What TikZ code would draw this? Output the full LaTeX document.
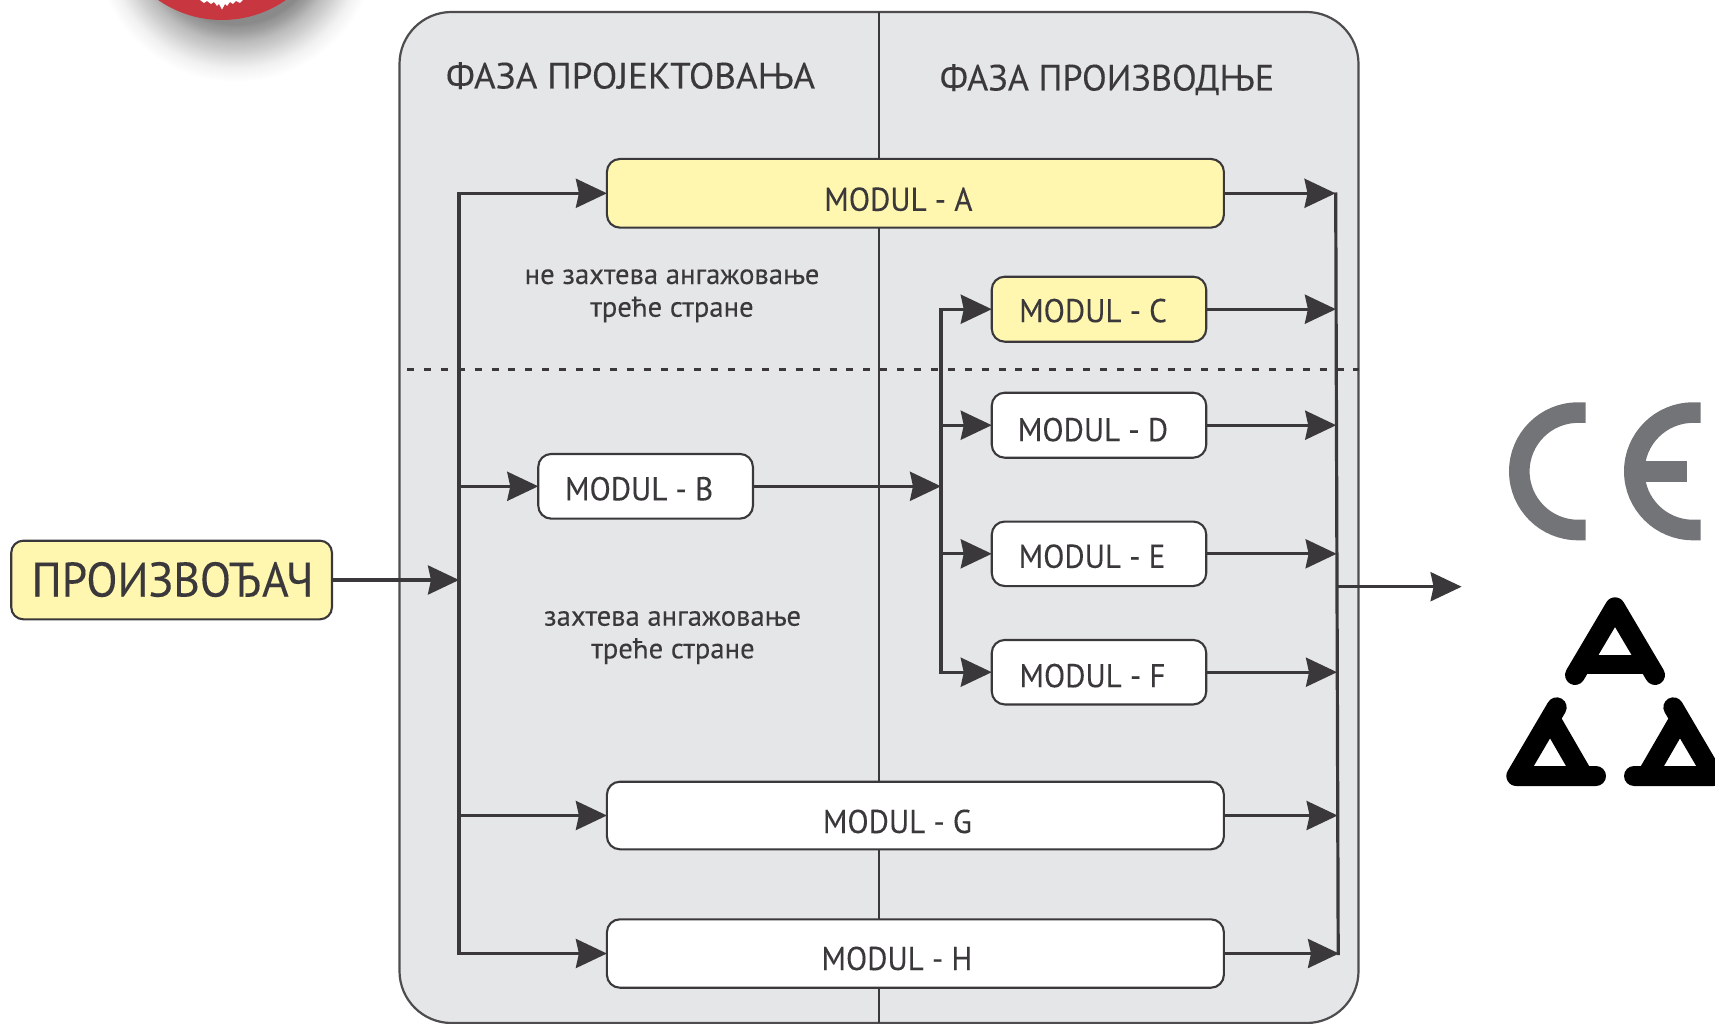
\documentclass[tikz,border=0pt]{standalone}
\usepackage{fontspec}
\setmainfont{PT Sans}[FakeBold=0.15]
\usetikzlibrary{arrows.meta}
\definecolor{ink}{HTML}{3A383A}
\definecolor{panelgray}{HTML}{E5E6E8}
\definecolor{noteyellow}{HTML}{FFF6AF}
\definecolor{cegray}{HTML}{737477}
\definecolor{sealred}{HTML}{C8373F}
\newcommand\offtext[3]{\smash{\raisebox{-#2}{\makebox[0pt]{\hspace{#1}\scalebox{.94}[1]{#3}}}}}
\newcommand\modfont{\fontsize{33}{33}\selectfont}
\tikzset{
  panelbox/.style={draw=ink!90!white,line width=2.2pt,fill=panelgray,rounded corners=52pt,inner sep=0pt,outer sep=0pt},
  modbox/.style={draw=ink,line width=2.1pt,rounded corners=13pt,inner sep=0pt,outer sep=0pt,text=ink,font=\modfont},
  yellowfill/.style={fill=noteyellow},
  whitefill/.style={fill=white},
  conn/.style={draw=ink,line width=3.2pt},
  arr/.style={conn,-{Stealth[length=31pt,width=29pt,inset=3pt]}},
  head/.style={text=ink,inner sep=0pt,anchor=base,font=\fontsize{36.5}{36.5}\selectfont},
  note/.style={text=ink,inner sep=0pt,anchor=base,font=\fontsize{28.7}{28.7}\selectfont},
}
\begin{document}
\begin{tikzpicture}[x=1pt,y=-1pt]
\useasboundingbox (0,0) rectangle (1715,1024);
\clip (0,0) rectangle (1715,1024);
% seal, cut by the top edge, with its soft shadow
\foreach \r [evaluate=\r as \op using {0.0008+0.018*(146-\r)/61}] in {146,145,...,85}{\fill[black,opacity=\op] (236,-60) circle[radius=\r pt];}
\fill[sealred] (222,-92) circle[radius=112pt];
\fill[white] (200,0)--(204,3)--(207,1)--(211,4)--(214,2)--(217,6)--(219,4)--(222,9.5)--(225,4)--(227,6)--(230,2)--(233,4)--(236,1)--(240,3)--(243,0)--cycle;
% panel
\node[panelbox,minimum width=959pt,minimum height=1011pt] (panel) at (879,517.5) {};
\coordinate (midtop) at (879,12);
\coordinate (midbot) at (879,1023);
\draw[ink,line width=2pt] (midtop) -- (midbot);
\coordinate (dashl) at (407,369.5);
\coordinate (dashr) at (1359,369.5);
\draw[ink,line width=3.2pt,dash pattern=on 7pt off 9.9pt] (dashl) -- (dashr);
\node[head] (h1) at (630.5,88.5) {\scalebox{1.016}[1]{ФАЗА ПРОЈЕКТОВАЊА}};
\node[head] (h2) at (1107,90.5) {\scalebox{.99}[1]{ФАЗА ПРОИЗВОДЊЕ}};
\node[note] (n1a) at (672,284) {не захтева ангажовање};
\node[note] (n1b) at (672,316.7) {треће стране};
\node[note] (n2a) at (672.5,625.7) {захтева ангажовање};
\node[note] (n2b) at (673,658.3) {треће стране};
% boxes
\node[modbox,yellowfill,minimum width=617pt,minimum height=68.7pt] (A) at (915.4,193.3) {\offtext{-34pt}{17.5pt}{MODUL - A}};
\node[modbox,whitefill,minimum width=214.7pt,minimum height=64.7pt] (B) at (645.6,486.3) {\offtext{-13pt}{14pt}{MODUL - B}};
\node[modbox,yellowfill,minimum width=214.5pt,minimum height=65pt] (C) at (1099,309.2) {\offtext{-12pt}{13pt}{MODUL - C}};
\node[modbox,whitefill,minimum width=214.5pt,minimum height=65pt] (D) at (1099,425.2) {\offtext{-12pt}{16pt}{MODUL - D}};
\node[modbox,whitefill,minimum width=214.5pt,minimum height=64.5pt] (E) at (1099,553.8) {\offtext{-14pt}{14pt}{MODUL - E}};
\node[modbox,whitefill,minimum width=214.5pt,minimum height=64.5pt] (F) at (1099,672.2) {\offtext{-13pt}{15pt}{MODUL - F}};
\node[modbox,whitefill,minimum width=617pt,minimum height=67.6pt] (G) at (915.4,815.5) {\offtext{-36pt}{17.5pt}{MODUL - G}};
\node[modbox,whitefill,minimum width=617pt,minimum height=68.4pt] (H) at (915.4,953.5) {\offtext{-37pt}{16.5pt}{MODUL - H}};
\node[modbox,yellowfill,rounded corners=12pt,minimum width=320.7pt,minimum height=78.6pt,font=\fontsize{48.5}{48.5}\selectfont] (P) at (171.6,580) {\offtext{2pt}{16.5pt}{ПРОИЗВОЂАЧ}};
% left bus
\coordinate (lbustop) at (459,193.3);
\coordinate (lbusbot) at (459,953.5);
\draw[conn,line cap=rect] (lbustop) -- (lbusbot);
\draw[arr] (P.east) -- (P.east -| lbustop);
\draw[arr] (A.west -| lbustop) -- (A.west);
\draw[arr] (B.west -| lbustop) -- (B.west);
\draw[arr] (G.west -| lbustop) -- (G.west);
\draw[arr] (H.west -| lbustop) -- (H.west);
% inner bus
\coordinate (ibustop) at (941,309.2);
\coordinate (ibusbot) at (941,672.2);
\draw[conn,line cap=rect] (ibustop) -- (ibusbot);
\draw[arr] (B.east) -- (B.east -| ibustop);
\draw[arr] (C.west -| ibustop) -- (C.west);
\draw[arr] (D.west -| ibustop) -- (D.west);
\draw[arr] (E.west -| ibustop) -- (E.west);
\draw[arr] (F.west -| ibustop) -- (F.west);
% right bus
\coordinate (rbustop) at (1335.7,192.5);
\coordinate (rbusbot) at (1338.2,955);
\coordinate (ra) at (1335.5,193.3);
\coordinate (rc) at (1335.9,309.2);
\coordinate (rd) at (1336.2,425.2);
\coordinate (re) at (1336.6,553.8);
\coordinate (rf) at (1337,672.2);
\coordinate (rg) at (1337.6,815.5);
\coordinate (rh) at (1339,953.5);
\coordinate (routa) at (1337,586.7);
\coordinate (routb) at (1461.6,586.7);
\draw[conn] (rbustop) -- (rbusbot);
\draw[arr] (A.east) -- (ra);
\draw[arr] (C.east) -- (rc);
\draw[arr] (D.east) -- (rd);
\draw[arr] (E.east) -- (re);
\draw[arr] (F.east) -- (rf);
\draw[arr] (G.east) -- (rg);
\draw[arr] (H.east) -- (rh);
\draw[arr] (routa) -- (routb);
% CE mark
\draw[cegray,line width=20.6pt] (1585.7,412.6) -- (1578,412.6) .. controls (1545.6,412.6) and (1519.3,438.9) .. (1519.3,471.3) .. controls (1519.3,503.7) and (1545.6,530) .. (1578,530) -- (1585.7,530);
\draw[cegray,line width=20.6pt] (1700.7,412.6) -- (1693,412.6) .. controls (1660.6,412.6) and (1634.3,438.9) .. (1634.3,471.3) .. controls (1634.3,503.7) and (1660.6,530) .. (1693,530) -- (1700.7,530);
\draw[cegray,line width=21pt] (1640,471.2) -- (1687.3,471.2);
% triangles
\begin{scope}[shift={(1450,370)},x=0.33333pt,y=-0.33333pt,black,line width=20pt,line cap=round,line join=round]
\draw (375,915) -- (495,712) -- (615,915);
\draw[line width=18.7pt,line cap=butt] (400,883) -- (590,883);
\draw (320,1012) -- (199,1218) -- (438,1218);
\draw[line cap=butt] (300,1045) -- (400,1218);
\draw (670,1012) -- (791,1218) -- (552,1218);
\draw[line cap=butt] (690,1045) -- (590,1218);
\end{scope}
\end{tikzpicture}
\end{document}
